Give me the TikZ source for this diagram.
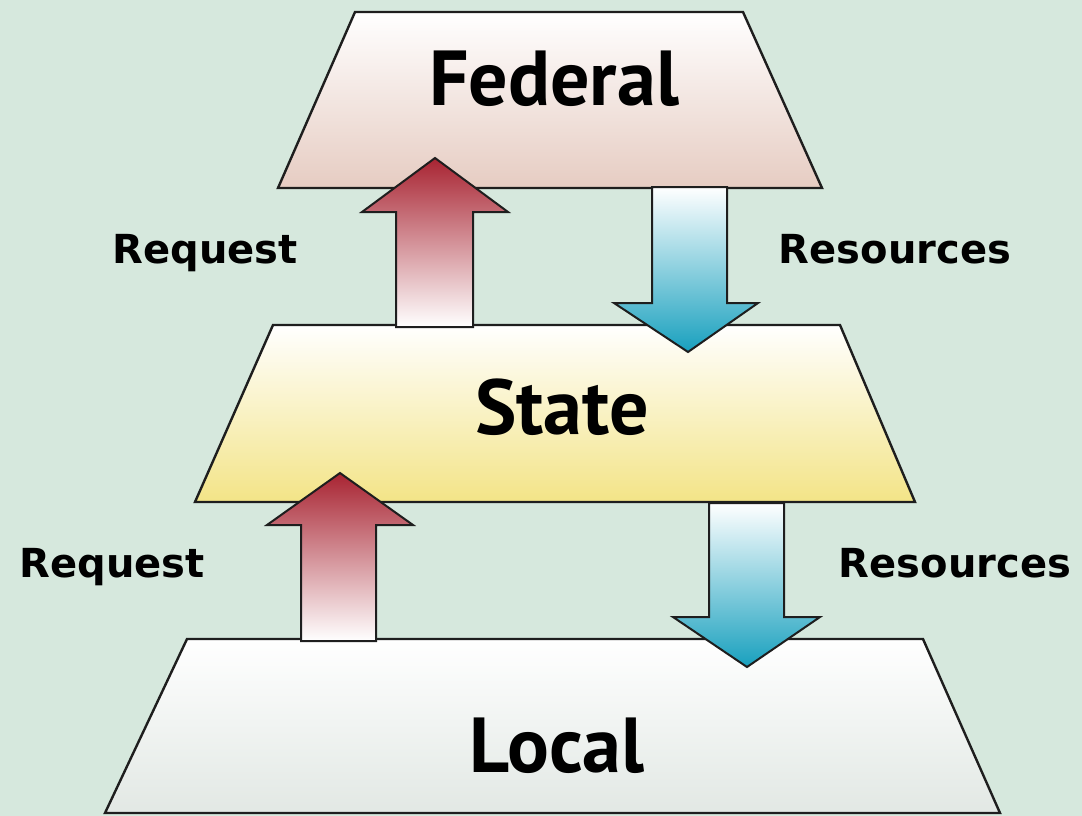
\documentclass[tikz,border=0pt]{standalone}
\usepackage{fontspec}
\setmainfont{DejaVu Sans}
\newfontfamily\levelfont{PT Sans}
\newfontfamily\labelfont{DejaVu Sans}
\definecolor{bg}{RGB}{214,232,221}
\definecolor{fedbot}{RGB}{230,204,194}
\definecolor{fedmid}{RGB}{251,245,242}
\definecolor{statebot}{RGB}{243,228,135}
\definecolor{statemid}{RGB}{252,248,215}
\definecolor{localbot}{RGB}{226,232,228}
\definecolor{localmid}{RGB}{246,249,247}
\definecolor{upred}{RGB}{168,36,50}
\definecolor{uppink}{RGB}{216,116,130}
\definecolor{downmid}{RGB}{80,196,218}
\definecolor{downbot}{RGB}{24,160,190}
\definecolor{edge}{RGB}{30,30,30}
\begin{document}
\begin{tikzpicture}[x=1pt,y=-1pt,line join=miter,
  tier/.style={draw=edge,line width=2.4pt},
  uparrow/.style={draw=edge,line width=2pt,top color=upred,middle color=uppink,bottom color=white},
  downarrow/.style={draw=edge,line width=2pt,top color=white,middle color=downmid,bottom color=downbot},
  levellabel/.style={font=\levelfont\bfseries\fontsize{78}{80}\selectfont,anchor=base,inner sep=0pt},
  flowlabel/.style={font=\labelfont\bfseries\fontsize{40}{42}\selectfont,anchor=base,inner sep=0pt}]
\fill[bg] (0,0) rectangle (1082,816);
\useasboundingbox (0,0) rectangle (1082,816);
% tiers
\path[tier,top color=white,middle color=fedmid,bottom color=fedbot]
  (355,12) -- (743,12) -- (822,188) -- (278,188) -- cycle;
\path[tier,top color=white,middle color=statemid,bottom color=statebot]
  (273,325) -- (840,325) -- (915,502) -- (195,502) -- cycle;
\path[tier,top color=white,middle color=localmid,bottom color=localbot]
  (187,639) -- (923,639) -- (1000,813) -- (105,813) -- cycle;
% level names
\node[levellabel] (federal) at (554,106) {Federal};
\node[levellabel] (state) at (562,434) {State};
\node[levellabel] (local) at (557,772) {Local};
% block arrows
\path[uparrow] (396,327) -- (396,212) -- (362,212) -- (435,158) -- (508,212) -- (473,212) -- (473,327) -- cycle;
\path[downarrow] (652,187) -- (652,303) -- (614,303) -- (688,352) -- (758,303) -- (727,303) -- (727,187) -- cycle;
\path[uparrow] (301,641) -- (301,525) -- (267,525) -- (340,473) -- (413,525) -- (376,525) -- (376,641) -- cycle;
\path[downarrow] (709,503) -- (709,617) -- (673,617) -- (747,667) -- (820,617) -- (784,617) -- (784,503) -- cycle;
% flow labels
\node[flowlabel] (req1) at (205,263) {Request};
\node[flowlabel] (res1) at (895,263) {Resources};
\node[flowlabel] (req2) at (112,577) {Request};
\node[flowlabel] (res2) at (955,577) {Resources};
\end{tikzpicture}
\end{document}
